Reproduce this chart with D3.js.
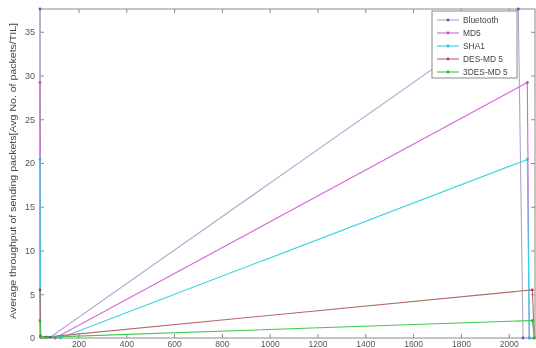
<!DOCTYPE html>
<html>
<head>
<meta charset="utf-8">
<script src="https://cdn.jsdelivr.net/npm/d3@7"></script>
<style>
  html, body { margin: 0; padding: 0; background: #fff; }
  svg { display: block; }
  text { font-family: "Liberation Sans", Arial, Helvetica, sans-serif; }
</style>
</head>
<body>
<svg id="chart" width="536" height="348"></svg>
<script>
// Series names, in legend order
const seriesNames = ["Bluetooth", "MD5", "SHA1", "DES-MD 5", "3DES-MD 5"];

// Packet counts (x) per series
const xBluetooth = [39, 41, 82, 2040, 2060];
const xMD5       = [39, 41, 103, 2078, 2086];
const xSHA1      = [39, 41, 124, 2078, 2086];
const xDESMD5    = [39, 42, 64, 2099, 2107];
const x3DESMD5   = [39, 42, 70, 2099, 2107];

// Average throughput (y) per series
const yBluetooth = [37.6, 0.2, 0.1, 37.6, 0];
const yMD5       = [29.2, 0.2, 0, 29.2, 0];
const ySHA1      = [20.4, 0.2, 0, 20.4, 0];
const yDESMD5    = [5.5, 0.2, 0.1, 5.5, 0];
const y3DESMD5   = [2.0, 0.2, 0.1, 2.0, 0];

// Axis ticks
const xTicks = [200, 400, 600, 800, 1000, 1200, 1400, 1600, 1800, 2000];
const yTicks = [0, 5, 10, 15, 20, 25, 30, 35];

const yLabel = "Average throughput of sending packets[Avg No. of packets/TIL]";

const lineColors   = ["#aaa6cc", "#d662d6", "#35d2e2", "#b46a64", "#3cc84c"];
const markerColors = ["#5454c8", "#cc44cc", "#18c4d8", "#b84040", "#20b830"];

const xs = [xBluetooth, xMD5, xSHA1, xDESMD5, x3DESMD5];
const ys = [yBluetooth, yMD5, ySHA1, yDESMD5, y3DESMD5];
const series = seriesNames.map((name, i) => ({
  name,
  points: xs[i].map((x, j) => ({ x, y: ys[i][j] })),
  line: lineColors[i],
  marker: markerColors[i]
}));

const svg = d3.select("#chart");
const pLeft = 40, pRight = 535, pTop = 9, pBottom = 338;

const x = d3.scaleLinear().domain([39, 2110]).range([pLeft, pRight]);
const y = d3.scaleLinear().domain([0, 37.6]).range([pBottom, pTop]);

const soft = svg.append("defs").append("filter").attr("id", "soft");
soft.append("feGaussianBlur").attr("stdDeviation", 0.45);

const g = svg.append("g").attr("filter", "url(#soft)");

// Plot frame
g.append("rect")
  .attr("x", pLeft).attr("y", pTop)
  .attr("width", pRight - pLeft).attr("height", pBottom - pTop)
  .attr("fill", "none").attr("stroke", "#8a8a8a").attr("stroke-width", 1);

// Inward ticks on all four sides
const tickLen = 4;
const axisStyle = sel => {
  sel.select(".domain").remove();
  sel.selectAll(".tick line").attr("stroke", "#8a8a8a");
  sel.selectAll(".tick text").attr("fill", "#555").attr("font-size", 9);
};

const xAxisBottom = g.append("g").attr("transform", `translate(0,${pBottom})`)
  .call(d3.axisBottom(x).tickValues(xTicks).tickFormat(d3.format("d"))
    .tickSizeInner(-tickLen).tickPadding(3).tickSizeOuter(0))
  .call(axisStyle);
// Bottom labels sit tight against the lower edge
xAxisBottom.selectAll(".tick text")
  .attr("dy", null).attr("y", 9.3).attr("font-size", 8.5);

g.append("g").attr("transform", `translate(0,${pTop})`)
  .call(d3.axisTop(x).tickValues(xTicks).tickSizeInner(-tickLen).tickFormat("").tickSizeOuter(0))
  .call(axisStyle);
g.append("g").attr("transform", `translate(${pLeft},0)`)
  .call(d3.axisLeft(y).tickValues(yTicks).tickSizeInner(-tickLen).tickPadding(5).tickSizeOuter(0))
  .call(axisStyle);
g.append("g").attr("transform", `translate(${pRight},0)`)
  .call(d3.axisRight(y).tickValues(yTicks).tickSizeInner(-tickLen).tickFormat("").tickSizeOuter(0))
  .call(axisStyle);

// Y axis title
g.append("text")
  .attr("transform", `translate(16,171) rotate(-90)`)
  .attr("text-anchor", "middle")
  .attr("font-size", 9.4)
  .attr("textLength", 296)
  .attr("lengthAdjust", "spacingAndGlyphs")
  .attr("fill", "#444")
  .text(yLabel);

// Series lines and markers
const line = d3.line().x(d => x(d.x)).y(d => y(d.y));
const plot = g.append("g");
series.forEach(s => {
  plot.append("path")
    .datum(s.points)
    .attr("d", line)
    .attr("fill", "none")
    .attr("stroke", s.line)
    .attr("stroke-width", 1.1);
});
series.forEach(s => {
  plot.selectAll(null)
    .data(s.points)
    .join("circle")
    .attr("cx", d => x(d.x)).attr("cy", d => y(d.y))
    .attr("r", 1.4)
    .attr("fill", s.marker);
});

// Legend
const lg = g.append("g").attr("transform", "translate(432,11)");
lg.append("rect")
  .attr("width", 85).attr("height", 67)
  .attr("fill", "#fff").attr("stroke", "#8a8a8a");
series.forEach((s, i) => {
  const cy = 9 + i * 13;
  lg.append("line")
    .attr("x1", 5).attr("x2", 27).attr("y1", cy).attr("y2", cy)
    .attr("stroke", s.line).attr("stroke-width", 1.1);
  lg.append("circle").attr("cx", 16).attr("cy", cy).attr("r", 1.4).attr("fill", s.marker);
  lg.append("text")
    .attr("x", 31).attr("y", cy + 3)
    .attr("font-size", 8.4).attr("fill", "#444")
    .text(s.name);
});
</script>
</body>
</html>
